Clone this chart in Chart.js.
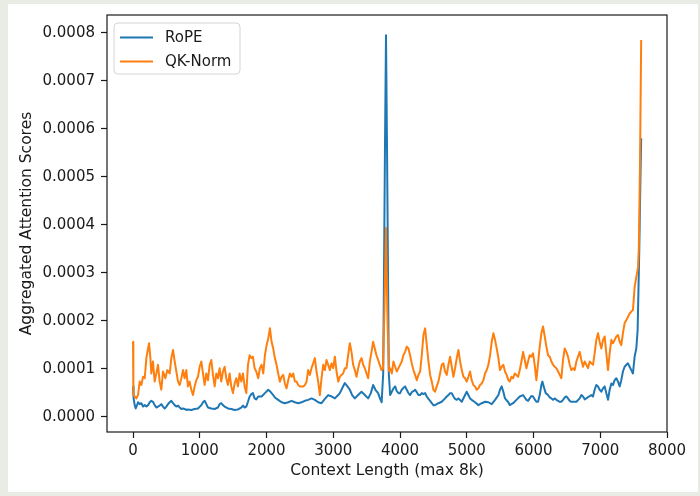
<!DOCTYPE html>
<html>
<head>
<meta charset="utf-8">
<script src="https://cdn.jsdelivr.net/npm/chart.js@4"></script>
<style>
  html, body { margin: 0; padding: 0; }
  body { width: 700px; height: 496px; background: #e8ece4; position: relative; overflow: hidden; }
  #panel { position: absolute; left: 8px; top: 4px; width: 690px; height: 488px; background: #fff; }
  #chart { position: absolute; left: 0; top: 0; }
</style>
</head>
<body>
<div id="panel"></div>
<canvas id="chart" width="700" height="496"></canvas>
<script>
/*************************
DATA (scores in units of 1e-4)
*************************/

const seriesNames = ['RoPE', 'QK-Norm'];

const ropeX = [0, 8, 25, 40, 60, 75, 100, 125, 150, 175, 200, 225, 250, 274, 299, 324, 349, 374, 399, 424,
  449, 474, 499, 524, 549, 574, 599, 624, 649, 674, 699, 724, 749, 773, 798, 823, 873, 923, 973, 1023,
  1048, 1073, 1098, 1123, 1173, 1223, 1272, 1297, 1322, 1347, 1372, 1422, 1472, 1522, 1572, 1622, 1647, 1672, 1697, 1722,
  1747, 1772, 1796, 1821, 1846, 1876, 1926, 1976, 2026, 2051, 2076, 2100, 2125, 2175, 2225, 2275, 2325, 2375, 2425, 2475,
  2525, 2575, 2624, 2674, 2724, 2774, 2824, 2874, 2924, 2974, 3024, 3074, 3098, 3123, 3173, 3213, 3248, 3283, 3323, 3373,
  3423, 3473, 3523, 3563, 3597, 3632, 3672, 3700, 3725, 3748, 3774, 3790, 3806, 3832, 3852, 3877, 3902, 3927, 3952, 3977,
  4001, 4026, 4051, 4076, 4101, 4126, 4151, 4176, 4201, 4226, 4251, 4276, 4301, 4326, 4351, 4376, 4401, 4426, 4451, 4476,
  4500, 4525, 4575, 4625, 4675, 4700, 4725, 4750, 4775, 4800, 4825, 4850, 4875, 4925, 4975, 4999, 5024, 5049, 5074, 5124,
  5174, 5224, 5274, 5324, 5374, 5424, 5474, 5498, 5523, 5548, 5573, 5623, 5644, 5694, 5744, 5794, 5844, 5869, 5894, 5918,
  5943, 5968, 5993, 6018, 6043, 6068, 6093, 6118, 6133, 6153, 6183, 6218, 6243, 6268, 6293, 6318, 6343, 6393, 6417, 6442,
  6467, 6492, 6517, 6542, 6567, 6592, 6642, 6692, 6717, 6742, 6767, 6792, 6842, 6867, 6891, 6916, 6941, 6966, 6991, 7016,
  7041, 7066, 7091, 7116, 7141, 7166, 7191, 7216, 7241, 7266, 7291, 7315, 7340, 7365, 7390, 7415, 7440, 7465, 7490, 7515,
  7540, 7560, 7585, 7600, 7613];
const ropeY = [0.63, 0.39, 0.24, 0.17, 0.24, 0.30, 0.26, 0.28, 0.21, 0.24, 0.21, 0.24, 0.30, 0.33, 0.31, 0.24, 0.19, 0.21, 0.23, 0.26,
  0.21, 0.17, 0.21, 0.26, 0.30, 0.33, 0.28, 0.24, 0.21, 0.23, 0.19, 0.16, 0.17, 0.16, 0.14, 0.15, 0.14, 0.16, 0.17, 0.24,
  0.30, 0.33, 0.26, 0.19, 0.17, 0.16, 0.19, 0.26, 0.28, 0.24, 0.21, 0.17, 0.16, 0.14, 0.15, 0.19, 0.23, 0.19, 0.21, 0.31,
  0.42, 0.47, 0.49, 0.38, 0.36, 0.42, 0.42, 0.49, 0.56, 0.53, 0.49, 0.45, 0.40, 0.35, 0.30, 0.28, 0.30, 0.33, 0.30, 0.28,
  0.30, 0.33, 0.35, 0.38, 0.35, 0.30, 0.28, 0.37, 0.45, 0.42, 0.38, 0.45, 0.49, 0.56, 0.70, 0.63, 0.56, 0.45, 0.38, 0.45,
  0.52, 0.45, 0.38, 0.49, 0.66, 0.56, 0.49, 0.38, 0.30, 0.90, 5.50, 7.95, 5.50, 0.90, 0.45, 0.52, 0.59, 0.63, 0.53, 0.49,
  0.49, 0.56, 0.60, 0.63, 0.56, 0.49, 0.45, 0.51, 0.53, 0.56, 0.51, 0.45, 0.45, 0.49, 0.47, 0.49, 0.42, 0.37, 0.33, 0.28,
  0.24, 0.24, 0.28, 0.31, 0.38, 0.42, 0.45, 0.49, 0.49, 0.42, 0.37, 0.35, 0.38, 0.31, 0.45, 0.52, 0.45, 0.38, 0.35, 0.30,
  0.24, 0.28, 0.31, 0.30, 0.26, 0.35, 0.45, 0.56, 0.63, 0.52, 0.38, 0.30, 0.24, 0.28, 0.35, 0.42, 0.45, 0.40, 0.35, 0.33,
  0.38, 0.43, 0.42, 0.36, 0.31, 0.31, 0.45, 0.66, 0.73, 0.63, 0.49, 0.45, 0.40, 0.38, 0.35, 0.38, 0.35, 0.31, 0.31, 0.35,
  0.40, 0.42, 0.38, 0.33, 0.31, 0.31, 0.31, 0.38, 0.45, 0.42, 0.36, 0.38, 0.43, 0.45, 0.42, 0.56, 0.66, 0.63, 0.56, 0.52,
  0.59, 0.63, 0.49, 0.35, 0.56, 0.69, 0.66, 0.76, 0.80, 0.73, 0.63, 0.76, 0.94, 1.04, 1.08, 1.11, 1.04, 0.97, 0.90, 1.25,
  1.42, 1.80, 3.50, 4.80, 5.80];

const qkX = [0, 5, 25, 50, 75, 100, 125, 150, 175, 200, 225, 240, 260, 274, 299, 324, 349, 374, 399, 424,
  449, 484, 514, 549, 574, 599, 624, 649, 674, 699, 724, 749, 773, 798, 823, 848, 873, 898, 923, 948,
  973, 998, 1023, 1048, 1073, 1098, 1123, 1148, 1173, 1198, 1223, 1248, 1272, 1297, 1322, 1347, 1372, 1397, 1422, 1447,
  1472, 1497, 1522, 1547, 1572, 1597, 1622, 1647, 1672, 1697, 1722, 1747, 1772, 1796, 1821, 1846, 1876, 1901, 1926, 1951,
  1976, 2001, 2026, 2051, 2076, 2100, 2125, 2150, 2175, 2200, 2225, 2250, 2275, 2300, 2325, 2350, 2375, 2400, 2425, 2450,
  2475, 2500, 2525, 2550, 2575, 2600, 2624, 2649, 2674, 2699, 2724, 2749, 2774, 2799, 2824, 2849, 2874, 2899, 2924, 2949,
  2974, 2999, 3024, 3049, 3074, 3098, 3123, 3148, 3173, 3198, 3223, 3248, 3273, 3298, 3323, 3348, 3373, 3398, 3423, 3448,
  3473, 3498, 3523, 3548, 3573, 3597, 3622, 3647, 3672, 3697, 3722, 3745, 3768, 3790, 3810, 3832, 3852, 3877, 3902, 3927,
  3952, 3977, 4001, 4026, 4051, 4076, 4101, 4126, 4151, 4176, 4201, 4226, 4251, 4276, 4301, 4326, 4351, 4376, 4401, 4426,
  4451, 4476, 4500, 4525, 4550, 4575, 4600, 4625, 4650, 4675, 4700, 4725, 4750, 4775, 4800, 4825, 4850, 4875, 4900, 4925,
  4950, 4975, 4999, 5024, 5049, 5074, 5099, 5124, 5149, 5174, 5199, 5224, 5249, 5274, 5299, 5324, 5349, 5374, 5399, 5424,
  5449, 5474, 5498, 5523, 5548, 5573, 5598, 5623, 5644, 5669, 5694, 5719, 5744, 5769, 5794, 5819, 5844, 5869, 5894, 5918,
  5943, 5968, 5993, 6018, 6043, 6068, 6093, 6118, 6143, 6168, 6193, 6218, 6243, 6268, 6293, 6318, 6343, 6368, 6393, 6417,
  6442, 6467, 6492, 6517, 6542, 6567, 6592, 6617, 6642, 6667, 6692, 6717, 6742, 6767, 6792, 6817, 6842, 6867, 6891, 6916,
  6941, 6966, 6991, 7016, 7041, 7066, 7091, 7116, 7141, 7166, 7191, 7216, 7241, 7266, 7291, 7315, 7340, 7365, 7390, 7415,
  7440, 7465, 7490, 7515, 7545, 7565, 7578, 7595, 7613];
const qkY = [1.56, 0.45, 0.42, 0.38, 0.45, 0.73, 0.66, 0.83, 0.80, 1.22, 1.42, 1.53, 1.22, 0.90, 1.15, 0.73, 0.90, 1.08, 0.73, 0.56,
  0.94, 0.80, 0.97, 0.90, 1.22, 1.39, 1.15, 0.94, 0.73, 0.66, 0.80, 0.97, 0.80, 0.97, 0.63, 0.73, 0.56, 0.45, 0.63, 0.76,
  0.83, 1.04, 1.15, 0.90, 0.66, 0.90, 0.76, 1.08, 1.18, 0.87, 0.63, 0.90, 0.80, 1.01, 0.73, 0.94, 1.04, 0.80, 0.66, 0.90,
  0.63, 0.49, 0.69, 0.80, 0.63, 0.90, 0.73, 0.90, 0.63, 0.49, 1.08, 1.28, 1.22, 1.25, 1.01, 0.94, 0.80, 1.01, 1.08, 0.90,
  1.28, 1.49, 1.63, 1.84, 1.56, 1.42, 1.22, 1.08, 0.90, 0.73, 0.83, 0.87, 0.69, 0.59, 0.76, 0.90, 0.83, 0.90, 0.73, 0.73,
  0.66, 0.63, 0.63, 0.63, 0.66, 0.73, 0.97, 0.87, 1.01, 1.11, 1.22, 0.94, 0.73, 0.45, 0.80, 1.08, 0.97, 1.18, 1.08, 0.97,
  1.11, 1.01, 1.25, 0.94, 0.73, 0.83, 0.87, 0.90, 1.01, 1.01, 1.28, 1.53, 1.35, 1.08, 0.97, 0.83, 1.01, 1.15, 1.22, 1.08,
  1.01, 0.90, 0.80, 1.15, 1.35, 1.56, 1.42, 1.28, 1.18, 1.08, 0.97, 1.00, 2.30, 3.93, 2.20, 0.95, 1.01, 0.90, 1.15, 1.04,
  0.94, 1.01, 1.08, 1.15, 1.28, 1.35, 1.46, 1.42, 1.28, 1.11, 0.97, 0.87, 0.76, 0.87, 0.94, 1.28, 1.70, 1.84, 1.49, 1.15,
  0.87, 0.73, 0.56, 0.52, 0.63, 0.73, 0.90, 1.08, 1.11, 0.94, 0.87, 1.08, 1.25, 1.04, 0.83, 1.01, 1.22, 1.39, 1.15, 0.97,
  0.83, 0.80, 0.73, 0.83, 0.94, 0.76, 0.66, 0.63, 0.56, 0.59, 0.66, 0.69, 0.76, 0.90, 0.97, 1.08, 1.28, 1.56, 1.74, 1.60,
  1.42, 1.22, 0.97, 1.04, 1.08, 0.94, 0.87, 0.76, 0.73, 0.83, 0.80, 0.90, 0.87, 0.83, 0.97, 1.15, 1.35, 1.18, 1.01, 1.15,
  1.28, 1.25, 1.32, 1.08, 0.76, 1.11, 1.46, 1.74, 1.88, 1.67, 1.46, 1.28, 1.25, 1.15, 1.08, 1.04, 1.01, 0.94, 0.87, 0.80,
  1.18, 1.42, 1.35, 1.25, 1.08, 0.97, 1.01, 0.97, 1.15, 1.25, 1.35, 1.18, 1.04, 1.15, 1.08, 1.01, 1.15, 1.11, 1.08, 1.32,
  1.60, 1.74, 1.56, 1.42, 1.60, 1.67, 1.32, 0.97, 1.32, 1.60, 1.53, 1.60, 1.67, 1.70, 1.56, 1.49, 1.74, 1.95, 2.01, 2.08,
  2.15, 2.19, 2.22, 2.70, 2.95, 3.10, 3.50, 5.20, 7.85];

const xTicks = [0, 1000, 2000, 3000, 4000, 5000, 6000, 7000, 8000];
const yTicks = [0, 1, 2, 3, 4, 5, 6, 7, 8];

/*************************
STYLE
*************************/

const blue = '#1f77b4';
const orange = '#ff7f0e';
const ink = '#1a1a1a';
const tickFont = {family: 'DejaVu Sans', size: 15};
const titleFont = {family: 'DejaVu Sans', size: 15.5};

function toPoints(xs, ys){
	return xs.map((x, i) => ({x: x, y: ys[i]}));
}

//draws the four spines round the plot area
const framePlugin = {
	id: 'frame',
	afterDatasetsDraw(chart){
		const {ctx, chartArea: a} = chart;
		ctx.save();
		ctx.strokeStyle = ink;
		ctx.lineWidth = 1.2;
		ctx.strokeRect(a.left, a.top, a.right - a.left, a.bottom - a.top);
		ctx.restore();
	}
};

//matplotlib style legend in the upper left corner
const legendPlugin = {
	id: 'mplLegend',
	afterDraw(chart){
		const {ctx, chartArea: a} = chart;
		const x = a.left + 7, y = a.top + 8, w = 126, h = 51;
		ctx.save();
		ctx.beginPath();
		ctx.roundRect(x, y, w, h, 4);
		ctx.fillStyle = 'rgba(255,255,255,0.8)';
		ctx.fill();
		ctx.strokeStyle = '#d4d4d4';
		ctx.lineWidth = 1;
		ctx.stroke();
		ctx.font = '15px "DejaVu Sans"';
		ctx.textBaseline = 'middle';
		ctx.fillStyle = ink;
		chart.data.datasets.slice().sort((p, q) => p.legendIndex - q.legendIndex).forEach((ds, i) => {
			const ly = y + 14.5 + i * 24;
			ctx.strokeStyle = ds.borderColor;
			ctx.lineWidth = 2;
			ctx.beginPath();
			ctx.moveTo(x + 6, ly);
			ctx.lineTo(x + 39, ly);
			ctx.stroke();
			ctx.fillText(ds.label, x + 51, ly + 0.5);
		});
		ctx.restore();
	}
};

/*************************
CHART
*************************/

new Chart(document.getElementById('chart').getContext('2d'), {
	type: 'line',
	data: {
		datasets: [
			{label: seriesNames[0], data: toPoints(ropeX, ropeY), borderColor: blue, borderWidth: 2, order: 2, legendIndex: 0},
			{label: seriesNames[1], data: toPoints(qkX, qkY), borderColor: orange, borderWidth: 2, order: 1, legendIndex: 1},
		]
	},
	options: {
		responsive: false,
		animation: false,
		elements: {
			point: {radius: 0},
			line: {tension: 0, fill: false, borderJoinStyle: 'round'},
		},
		layout: {padding: {left: 0, top: 15, right: 33, bottom: 0}},
		plugins: {
			legend: {display: false},
			tooltip: {enabled: false},
		},
		scales: {
			x: {
				type: 'linear',
				min: -390,
				max: 8000,
				afterBuildTicks: s => { s.ticks = xTicks.map(v => ({value: v})); },
				afterFit: s => { s.height = 64; },
				ticks: {font: tickFont, color: ink, padding: 4, maxRotation: 0, autoSkip: false, callback: v => String(v)},
				grid: {drawOnChartArea: false, drawTicks: true, tickLength: 6, tickColor: ink, tickWidth: 1.2},
				border: {display: false},
				title: {display: true, text: 'Context Length (max 8k)', font: titleFont, color: ink, padding: {top: 0, bottom: 15.7}},
			},
			y: {
				type: 'linear',
				min: -0.32,
				max: 8.37,
				afterBuildTicks: s => { s.ticks = yTicks.map(v => ({value: v})); },
				afterFit: s => { s.width = 107; },
				ticks: {font: tickFont, color: ink, padding: 6, autoSkip: false, callback: v => (v * 1e-4).toFixed(4)},
				grid: {drawOnChartArea: false, drawTicks: true, tickLength: 6, tickColor: ink, tickWidth: 1.2},
				border: {display: false},
				title: {display: true, text: 'Aggregated Attention Scores', font: titleFont, color: ink, padding: {top: 17.7, bottom: 0}},
			},
		},
	},
	plugins: [framePlugin, legendPlugin],
});
</script>
</body>
</html>
